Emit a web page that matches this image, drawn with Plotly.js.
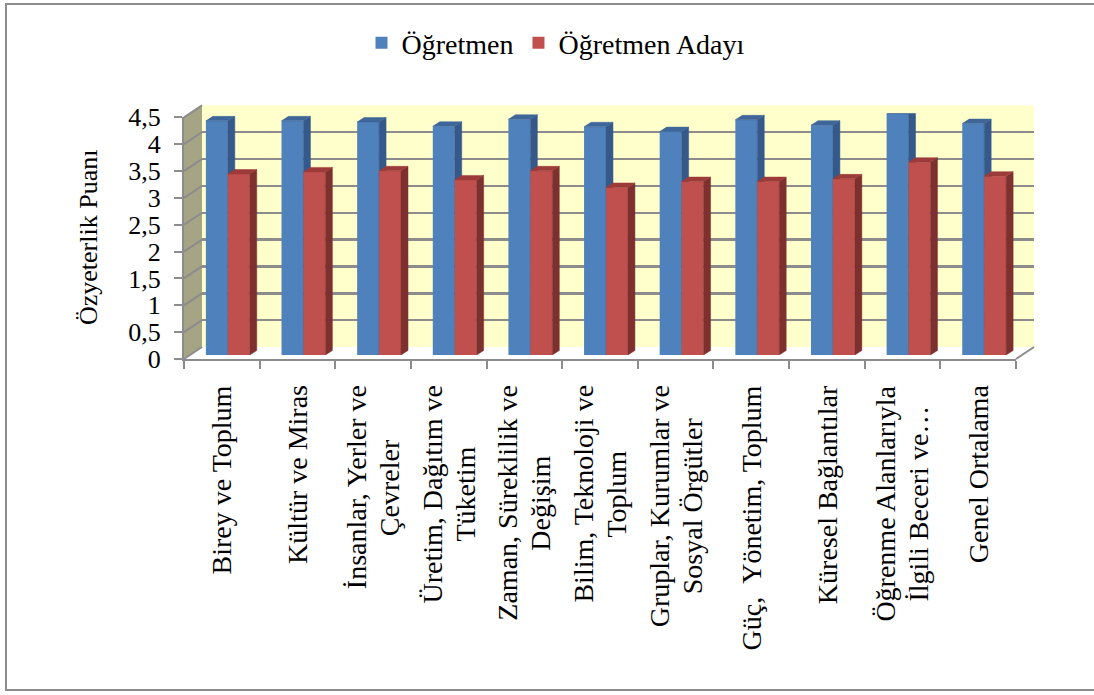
<!DOCTYPE html>
<html><head><meta charset="utf-8">
<script src="https://cdn.plot.ly/plotly-3.0.1.min.js"></script>
<style>html,body{margin:0;padding:0;background:#fff}#chart{width:1094px;height:695px}</style>
</head><body><div id="chart"></div>
<script>
// ---- data ----
const categories = [
  'Birey ve Toplum',
  'Kültür ve Miras',
  'İnsanlar, Yerler ve<br>Çevreler',
  'Üretim, Dağıtım ve<br>Tüketim',
  'Zaman, Süreklilik ve<br>Değişim',
  'Bilim, Teknoloji ve<br>Toplum',
  'Gruplar, Kurumlar ve<br>Sosyal Örgütler',
  'Güç,  Yönetim, Toplum',
  'Küresel Bağlantılar',
  'Öğrenme Alanlarıyla<br>İlgili Beceri ve…',
  'Genel Ortalama'
];
const seriesNames = ['Öğretmen', 'Öğretmen Adayı'];
const ogretmen      = [4.36, 4.36, 4.34, 4.26, 4.39, 4.25, 4.16, 4.38, 4.28, 4.49, 4.31];
const ogretmenAdayi = [3.37, 3.41, 3.43, 3.26, 3.43, 3.12, 3.23, 3.23, 3.28, 3.59, 3.33];
const yTickValues = [0, 0.5, 1, 1.5, 2, 2.5, 3, 3.5, 4, 4.5];
const yAxisTitle = 'Özyeterlik Puanı';

// ---- geometry / style ----
const W = 1094, H = 695;
const FRONT = {x0: 184, x1: 1016, yBase: 359, yTop: 117.35};
const DEPTH = {dx: 18, dy: -12};
const BAR_SHIFT = {dx: 6, dy: -4};
const BAR_DEPTH = {dx: 7, dy: -4.5};
const YMAX = 4.5;
const LABEL_TOP = 385, LABEL_SIZE = 28, LABEL_GAP = 33;
const n = categories.length;
const catPx = (FRONT.x1 - FRONT.x0) / n;
const unitPx = (FRONT.yBase - FRONT.yTop) / YMAX;
const px = x => x / W, py = y => 1 - y / H;
const barW = 0.29;
const ddx = BAR_DEPTH.dx / catPx, ddy = -BAR_DEPTH.dy / unitPx;
const GRID = '#8c8c8c';
const FONT = '"Liberation Serif", "Times New Roman", serif';
const COLORS = {
  blue: {front: '#4F81BD', side: '#35598A', top: '#3E6699'},
  red:  {front: '#C0504D', side: '#7E302E', top: '#9C3B39'}
};

function faces(vals, leftOff) {
  const side = {x: [], y: []}, top = {x: [], y: []};
  vals.forEach((v, i) => {
    const L = i + leftOff, R = L + barW;
    side.x.push(R, R, R + ddx, R + ddx, R, null);
    side.y.push(0, v, v + ddy, ddy, 0, null);
    top.x.push(L, R, R + ddx, L + ddx, L, null);
    top.y.push(v, v, v + ddy, v + ddy, v, null);
  });
  return {side, top};
}
const idx = categories.map((c, i) => i);
const fb = faces(ogretmen, -barW), fr = faces(ogretmenAdayi, 0);

function poly(f, color, xa, ya) {
  return {type: 'scatter', x: f.x, y: f.y, xaxis: xa, yaxis: ya, fill: 'toself',
    mode: 'lines', line: {width: 0.5, color: color}, fillcolor: color,
    showlegend: false, hoverinfo: 'skip'};
}

const traces = [
  {type: 'scatter', x: [0], y: [0], xaxis: 'x', yaxis: 'y', mode: 'markers', opacity: 0, showlegend: false, hoverinfo: 'skip'},
  {type: 'scatter', x: [0], y: [0], xaxis: 'x2', yaxis: 'y2', mode: 'markers', opacity: 0, showlegend: false, hoverinfo: 'skip'},
  {type: 'bar', name: seriesNames[0], x: idx, y: ogretmen, width: barW, offset: -barW,
   xaxis: 'x3', yaxis: 'y3', marker: {color: COLORS.blue.front, line: {width: 0}}},
  poly(fb.side, COLORS.blue.side, 'x3', 'y3'),
  poly(fb.top, COLORS.blue.top, 'x3', 'y3'),
  {type: 'bar', name: seriesNames[1], x: idx, y: ogretmenAdayi, width: barW, offset: 0,
   xaxis: 'x4', yaxis: 'y4', marker: {color: COLORS.red.front, line: {width: 0}}},
  poly(fr.side, COLORS.red.side, 'x4', 'y4'),
  poly(fr.top, COLORS.red.top, 'x4', 'y4')
];

const hidden = {visible: false, fixedrange: true};
const layout = {
  width: W, height: H,
  margin: {l: 0, r: 0, t: 0, b: 0, pad: 0},
  paper_bgcolor: '#ffffff', plot_bgcolor: 'rgba(0,0,0,0)',
  separators: ',.',
  font: {family: FONT, color: '#000'},
  showlegend: true,
  barmode: 'overlay',
  legend: {orientation: 'h', x: px(556), xanchor: 'center', y: py(43), yanchor: 'middle',
           font: {family: FONT, size: 28, color: '#000'}, bgcolor: 'rgba(0,0,0,0)', itemwidth: 30},
  // back wall
  xaxis: {domain: [px(FRONT.x0 + DEPTH.dx), px(FRONT.x1 + DEPTH.dx)], range: [-0.5, n - 0.5], anchor: 'y',
          showgrid: false, zeroline: false, showticklabels: false, ticks: '', showline: false, fixedrange: true},
  yaxis: {domain: [py(FRONT.yBase + DEPTH.dy), py(FRONT.yTop + DEPTH.dy)], range: [0, YMAX], anchor: 'x',
          tickvals: yTickValues, showgrid: true, gridcolor: GRID, gridwidth: 2.5, zeroline: false,
          showticklabels: false, ticks: '', showline: false, fixedrange: true},
  // front axes
  xaxis2: {domain: [px(FRONT.x0), px(FRONT.x1)], range: [-0.5, n - 0.5], anchor: 'y2',
           tickvals: categories.map((c, i) => i - 0.5).concat([n - 0.5]), showticklabels: false,
           ticks: 'outside', ticklen: 8, tickwidth: 2, tickcolor: GRID,
           showline: true, linecolor: GRID, linewidth: 2, showgrid: false, zeroline: false, fixedrange: true},
  yaxis2: {domain: [py(FRONT.yBase), py(FRONT.yTop)], range: [0, YMAX], anchor: 'x2',
           tickvals: yTickValues, ticks: 'outside', ticklen: 8, tickwidth: 2, tickcolor: GRID,
           showline: true, linecolor: GRID, linewidth: 2, showgrid: false, zeroline: false,
           tickfont: {family: FONT, size: 26, color: '#000'}, ticklabelstandoff: 8,
           automargin: false, fixedrange: true},
  // bars
  xaxis3: Object.assign({domain: [px(FRONT.x0 + BAR_SHIFT.dx), px(FRONT.x1 + BAR_SHIFT.dx)], range: [-0.5, n - 0.5], anchor: 'y3'}, hidden),
  yaxis3: Object.assign({domain: [py(FRONT.yBase + BAR_SHIFT.dy), py(FRONT.yTop + BAR_SHIFT.dy)], range: [0, YMAX], anchor: 'x3'}, hidden),
  xaxis4: Object.assign({overlaying: 'x3', range: [-0.5, n - 0.5], anchor: 'y4'}, hidden),
  yaxis4: Object.assign({overlaying: 'y3', range: [0, YMAX], anchor: 'x4'}, hidden),
  shapes: [],
  annotations: []
};

// back wall fill
layout.shapes.push({type: 'rect', xref: 'x domain', yref: 'y domain', x0: 0, x1: 1, y0: 0, y1: 1,
  fillcolor: '#FFFFCC', line: {width: 0}, layer: 'below'});
// side wall
const yF = v => FRONT.yBase - v * unitPx;
layout.shapes.push({type: 'path', xref: 'paper', yref: 'paper', layer: 'below',
  path: `M${px(FRONT.x0)},${py(yF(0))} L${px(FRONT.x0)},${py(yF(YMAX))} L${px(FRONT.x0 + DEPTH.dx)},${py(yF(YMAX) + DEPTH.dy)} L${px(FRONT.x0 + DEPTH.dx)},${py(yF(0) + DEPTH.dy)} Z`,
  fillcolor: '#A5A586', line: {width: 0}});
yTickValues.forEach(v => {
  layout.shapes.push({type: 'line', xref: 'paper', yref: 'paper', layer: 'below',
    x0: px(FRONT.x0), y0: py(yF(v)), x1: px(FRONT.x0 + DEPTH.dx), y1: py(yF(v) + DEPTH.dy),
    line: {color: GRID, width: 2}});
});
// floor right edge
layout.shapes.push({type: 'line', xref: 'paper', yref: 'paper', layer: 'below',
  x0: px(FRONT.x1), y0: py(FRONT.yBase), x1: px(FRONT.x1 + DEPTH.dx), y1: py(FRONT.yBase + DEPTH.dy),
  line: {color: GRID, width: 2}});
// outer border (right side lies beyond the picture)
layout.shapes.push({type: 'rect', xref: 'paper', yref: 'paper', layer: 'below',
  x0: px(6), x1: px(1100), y0: py(690), y1: py(4), line: {color: GRID, width: 2}, fillcolor: 'rgba(0,0,0,0)'});

// category labels: rotated, lines centred within a top-anchored block
const ctx = document.createElement('canvas').getContext('2d');
ctx.font = `${LABEL_SIZE}px "Liberation Serif", "Times New Roman", serif`;
categories.forEach((c, i) => {
  const lines = c.split('<br>');
  const maxW = Math.max(...lines.map(l => ctx.measureText(l).width));
  const yMid = LABEL_TOP + maxW / 2;
  lines.forEach((l, k) => {
    layout.annotations.push({text: l, x: i, xref: 'x2', y: py(yMid), yref: 'paper',
      xanchor: 'center', yanchor: 'middle', textangle: -90, showarrow: false,
      xshift: (k - (lines.length - 1) / 2) * LABEL_GAP,
      font: {family: FONT, size: LABEL_SIZE, color: '#000'}});
  });
});
// y axis title
layout.annotations.push({text: yAxisTitle, x: px(88), y: py(238), xref: 'paper', yref: 'paper',
  xanchor: 'center', yanchor: 'middle', textangle: -90, showarrow: false,
  font: {family: FONT, size: 26, color: '#000'}});

Plotly.newPlot('chart', traces, layout, {staticPlot: true, displayModeBar: false});
</script>
</body></html>
